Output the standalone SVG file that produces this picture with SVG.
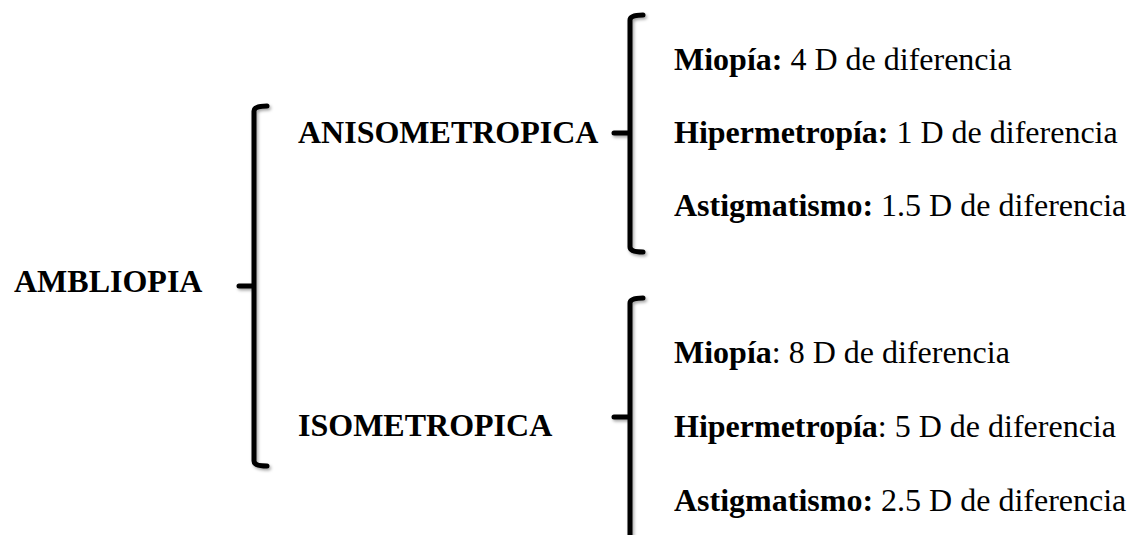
<svg xmlns="http://www.w3.org/2000/svg" width="1133" height="535" viewBox="0 0 1133 535">
  <style>
    text { font-family: "Liberation Serif", "Times New Roman", serif; font-size: 32px; fill: #000; }
    .b { font-weight: bold; }
    .brace { fill: none; stroke: #000; stroke-width: 5; stroke-linecap: round; stroke-linejoin: round; }
  </style>
  <defs>
    <filter id="sh" x="-50%" y="-10%" width="200%" height="120%">
      <feDropShadow dx="1.5" dy="2" stdDeviation="1.5" flood-color="#000" flood-opacity="0.35"/>
    </filter>
  </defs>
  <rect width="1133" height="535" fill="#fff"/>
  <g id="connectors" filter="url(#sh)">
    <path class="brace" d="M267,106 Q254,106 254,111 L254,461 Q254,466 267,466 M254,286 L239,286"/>
    <path class="brace" d="M643,15 Q630,15 630,20 L630,247 Q630,252 643,252 M630,133 L614,133"/>
    <path class="brace" d="M643,298 Q630,298 630,303 L630,540 M630,417 L614,417"/>
  </g>
  <g id="ambliopia"><text x="14" y="292" class="b">AMBLIOPIA</text></g>
  <g id="anisometropica"><text x="298" y="143" class="b">ANISOMETROPICA</text></g>
  <g id="isometropica"><text x="298" y="436" class="b">ISOMETROPICA</text></g>
  <g id="aniso-miopia"><text x="674" y="70"><tspan class="b">Miopía:</tspan> 4 D de diferencia</text></g>
  <g id="aniso-hiper"><text x="674" y="143"><tspan class="b">Hipermetropía:</tspan> 1 D de diferencia</text></g>
  <g id="aniso-astig"><text x="674" y="216"><tspan class="b">Astigmatismo:</tspan> 1.5 D de diferencia</text></g>
  <g id="iso-miopia"><text x="674" y="363"><tspan class="b">Miopía</tspan>: 8 D de diferencia</text></g>
  <g id="iso-hiper"><text x="674" y="437"><tspan class="b">Hipermetropía</tspan>: 5 D de diferencia</text></g>
  <g id="iso-astig"><text x="674" y="511"><tspan class="b">Astigmatismo:</tspan> 2.5 D de diferencia</text></g>
</svg>
